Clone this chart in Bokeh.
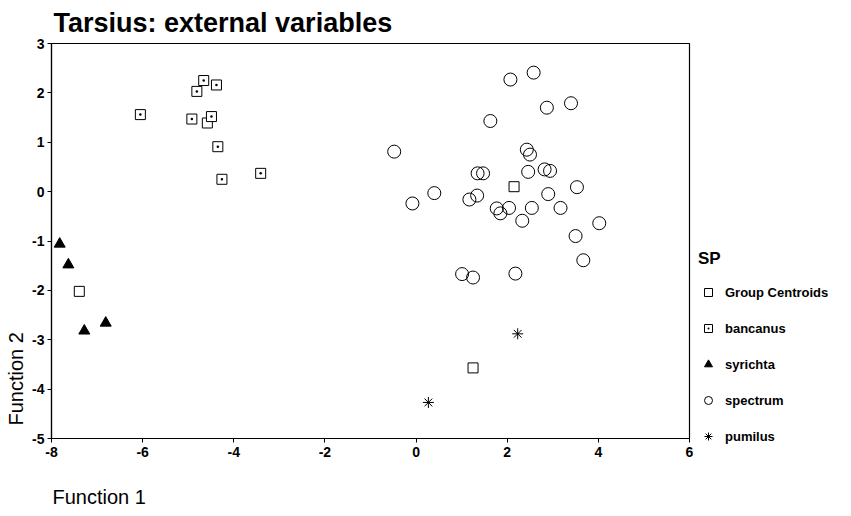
import math
from bokeh.plotting import figure
from bokeh.models import (Legend, LegendItem, FixedTicker, Range1d, Label,
                          CustomJSTickFormatter, BoxAnnotation)
from bokeh.embed import file_html
from bokeh.resources import INLINE

# ---- data ----
bancanus_x = [-4.66, -4.38, -4.81, -6.05, -4.92, -4.49, -4.35, -3.41, -4.26]
bancanus_y = [2.25, 2.16, 2.03, 1.56, 1.47, 1.52, 0.91, 0.37, 0.25]

syrichta_x = [-7.82, -7.63, -7.28, -6.81]
syrichta_y = [-1.06, -1.48, -2.82, -2.66]

spectrum_x = [2.07, 2.58, 2.87, 3.40, 1.63, -0.48, 2.43, 2.50, 1.35, 1.47, 2.46,
              2.82, 2.94, 3.53, 2.90, 0.40, -0.08, 1.34, 1.17, 1.77, 1.85, 2.04,
              2.54, 3.17, 2.33, 4.02, 3.50, 3.67, 1.01, 1.25, 2.18]
spectrum_y = [2.27, 2.41, 1.70, 1.79, 1.43, 0.81, 0.85, 0.75, 0.37, 0.37, 0.40,
              0.45, 0.42, 0.09, -0.05, -0.03, -0.24, -0.08, -0.16, -0.34, -0.44, -0.33,
              -0.33, -0.33, -0.59, -0.64, -0.90, -1.39, -1.67, -1.74, -1.66]

pumilus_x = [2.23, 0.27]
pumilus_y = [-2.88, -4.27]

centroid_x = [-4.58, -7.39, 2.15, 1.25]
centroid_y = [1.39, -2.02, 0.10, -3.57]

x_ticks = [-8, -6, -4, -2, 0, 2, 4, 6]
y_ticks = [-5, -4, -3, -2, -1, 0, 1, 2, 3]
x_min, x_max = -8, 6
y_min, y_max = -5, 3

species_labels = ["Group Centroids", "bancanus", "syrichta", "spectrum", "pumilus"]
title_text = "Tarsius: external variables"
x_label = "Function 1"
y_label = "Function 2"

FONT = "Liberation Sans"

# ---- layout (pixels, figure coordinates from the top-left) ----
W, H = 835, 508
BOX_L, BOX_R = 51, 689         # x_min / x_max
BOX_T, BOX_B = 43, 438         # y_max / y_min
px_x = (BOX_R - BOX_L) / (x_max - x_min)
px_y = (BOX_B - BOX_T) / (y_max - y_min)
x_start = x_min - BOX_L / px_x
x_end = x_max + (W - BOX_R) / px_x
y_start = y_min - (H - BOX_B) / px_y
y_end = y_max + BOX_T / px_y

p = figure(width=W, height=H, output_backend="svg", toolbar_location=None,
           title=None, x_range=Range1d(x_start, x_end), y_range=Range1d(y_start, y_end),
           min_border_left=0, min_border_right=0, min_border_top=0,
           min_border_bottom=0)

p.grid.visible = False
p.outline_line_color = None
p.background_fill_color = "white"
p.border_fill_color = "white"

plain_fmt = CustomJSTickFormatter(code="return tick.toFixed(0);")
for ax in (p.xaxis[0], p.yaxis[0]):
    ax.axis_line_color = "black"
    ax.axis_line_width = 1.2
    ax.major_tick_line_color = "black"
    ax.major_tick_in = 0
    ax.major_tick_out = 4
    ax.minor_tick_line_color = None
    ax.major_label_text_font = FONT
    ax.major_label_text_font_size = "14px"
    ax.major_label_text_font_style = "bold"
    ax.major_label_text_color = "black"
    ax.formatter = plain_fmt
p.xaxis[0].ticker = FixedTicker(ticks=x_ticks)
p.yaxis[0].ticker = FixedTicker(ticks=y_ticks)
p.xaxis[0].bounds = (x_min, x_max)
p.yaxis[0].bounds = (y_min, y_max)
p.xaxis[0].fixed_location = y_min
p.yaxis[0].fixed_location = x_min
p.xaxis[0].major_label_standoff = 4
p.yaxis[0].major_label_standoff = 3

# plot box
p.add_layout(BoxAnnotation(left=x_min, right=x_max, bottom=y_min, top=y_max,
                           fill_alpha=0, line_color="black", line_alpha=1.0,
                           line_width=1.2))

# texts (screen units, measured from the bottom-left of the figure)
p.add_layout(Label(x=BOX_L + 2, y=H - 22, x_units="screen", y_units="screen",
                   text=title_text, text_font=FONT, text_font_size="27px",
                   text_font_style="bold", text_color="black",
                   text_baseline="alphabetic", text_align="left"))
p.add_layout(Label(x=BOX_L + 1, y=12, x_units="screen", y_units="screen",
                   text=x_label, text_font=FONT, text_font_size="20px",
                   text_color="black", text_baseline="alphabetic", text_align="left"))
p.add_layout(Label(x=15, y=H - BOX_B + 13, x_units="screen", y_units="screen",
                   text=y_label, text_font=FONT, text_font_size="20px",
                   text_color="black", text_baseline="alphabetic", text_align="left",
                   angle=math.pi / 2))

r_cent = p.scatter(centroid_x, centroid_y, marker="square", size=10,
                   fill_color="white", line_color="black", line_width=1)
r_banc = p.scatter(bancanus_x, bancanus_y, marker="square_dot", size=10,
                   fill_color="white", line_color="black", line_width=1)
r_syr = p.scatter(syrichta_x, syrichta_y, marker="triangle", size=11,
                  fill_color="black", line_color="black")
r_spec = p.scatter(spectrum_x, spectrum_y, marker="circle", size=13,
                   fill_color=None, line_color="black", line_width=1)
r_pum = p.scatter(pumilus_x, pumilus_y, marker="asterisk", size=11,
                  line_color="black", line_width=1)

renderers = [r_cent, r_banc, r_syr, r_spec, r_pum]
legend = Legend(items=[LegendItem(label=lab, renderers=[r])
                       for lab, r in zip(species_labels, renderers)],
                location=(BOX_R + 9, H - BOX_B - 8), title="SP")
legend.title_text_font = FONT
legend.title_text_font_size = "17px"
legend.title_text_font_style = "bold"
legend.title_text_color = "black"
legend.title_standoff = 13
legend.label_text_font = FONT
legend.label_text_font_size = "13px"
legend.label_text_font_style = "bold"
legend.label_text_color = "black"
legend.glyph_width = 20
legend.glyph_height = 20
legend.label_height = 20
legend.label_standoff = 7
legend.spacing = 16
legend.padding = 0
legend.margin = 0
legend.border_line_color = None
legend.background_fill_alpha = 0
p.add_layout(legend, "center")

open("out.html", "w").write(file_html(p, INLINE))
